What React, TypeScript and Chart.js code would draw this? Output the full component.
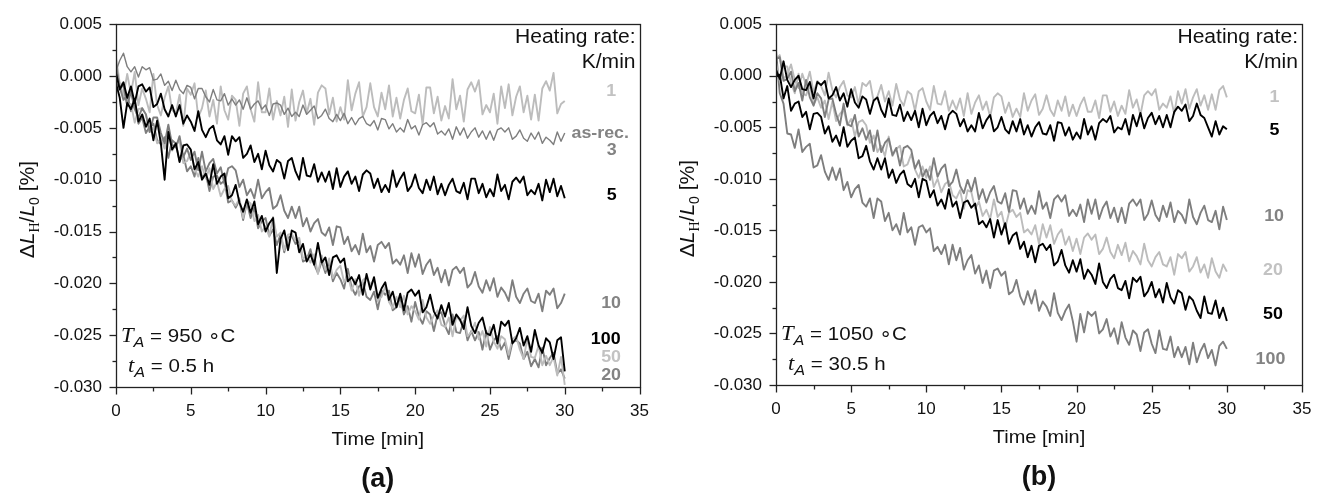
import React, { useEffect, useRef } from 'react';
import { Chart, registerables } from 'chart.js';

Chart.register(...registerables);

// ---------- data (values in units of 1e-4 %) ----------
const TIME = [0,0.25,0.5,0.75,1,1.25,1.5,1.75,2,2.25,2.5,2.75,3,3.25,3.5,3.75,4,4.25,4.5,4.75,5,5.25,5.5,5.75,6,6.25,6.5,6.75,7,7.25,7.5,7.75,8,8.25,8.5,8.75,9,9.25,9.5,9.75,10,10.25,10.5,10.75,11,11.25,11.5,11.75,12,12.25,12.5,12.75,13,13.25,13.5,13.75,14,14.25,14.5,14.75,15,15.25,15.5,15.75,16,16.25,16.5,16.75,17,17.25,17.5,17.75,18,18.25,18.5,18.75,19,19.25,19.5,19.75,20,20.25,20.5,20.75,21,21.25,21.5,21.75,22,22.25,22.5,22.75,23,23.25,23.5,23.75,24,24.25,24.5,24.75,25,25.25,25.5,25.75,26,26.25,26.5,26.75,27,27.25,27.5,27.75,28,28.25,28.5,28.75,29,29.25,29.5,29.75,30];

const X_TICKS = [0, 5, 10, 15, 20, 25, 30, 35];
const X_TICK_LABELS = ['0', '5', '10', '15', '20', '25', '30', '35'];
const Y_TICKS = [50, 0, -50, -100, -150, -200, -250, -300];
const Y_TICK_LABELS = ['0.005', '0.000', '-0.005', '-0.010', '-0.015', '-0.020', '-0.025', '-0.030'];

// (a) T_A = 950 C, t_A = 0.5 h
const A_RATE1 = [18,-7,-19,2, -17,4,-28,-12, -22,-35,2,-28, -38,-21,-10,-33, -36,-18,-48,-12, -18,-7,-40,-31, -14,-39,-23,-46, -10,-33,-42,-19, -23,-48,-17,-10, -32,-44,-6,-35, -35,-12,-42,-24, -38,-20,-49,-13, -43,-25,-14,-36, -22,-47,-16,-9, -12,-37,-21,-44, -30,-42,-4,-33, -17,-6,-39,-30, -7,-30,-39,-16, -32,-9,-39,-21, -41,-23,-12,-34, -36,-18,-47,-11, -11,-36,-20,-43, -29,-41,-3,-32, -19,-44,-13,-6, -15,-4,-37,-28, -35,-17,-46,-10, -31,-8,-38,-20, -10,-35,-19,-42, -18,-43,-12,-5, -14,3,-36,-27, -24];
const A_RATE3 = [5,15,22,9, 4,9,-1,9, 6,8,-4,-3, 2,-9,-5,-14, -4,-13,-17,-9, -11,-22,-12,-12, -20,-25,-13,-23, -24,-17,-28,-22, -28,-23,-32,-21, -32,-27,-24,-32, -28,-38,-27,-26, -28,-37,-31,-39, -35,-39,-28,-37, -33,-29,-41,-38, -32,-41,-44,-37, -43,-36,-46,-40, -47,-41,-39,-46, -48,-43,-52,-41, -42,-51,-46,-54, -50,-54,-42,-51, -48,-57,-47,-45, -49,-45,-56,-53, -57,-51,-61,-49, -57,-50,-60,-54, -50,-59,-53,-61, -53,-62,-52,-50, -54,-50,-61,-58, -52,-60,-63,-55, -61,-54,-65,-59, -62,-66,-54,-63, -55];
const A_RATE5 = [3,-13,-6,-21, -10,-26,-10,-8, -15,-11,-30,-27, -17,-32,-39,-28, -39,-28,-46,-38, -44,-53,-34,-52, -59,-51,-48,-62, -66,-58,-76,-58, -63,-59,-79,-75, -67,-83,-75,-90, -72,-86,-92,-81, -84,-99,-82,-79, -92,-100,-79,-96, -97,-85,-102,-93, -102,-92,-109,-89, -107,-97,-92,-104, -97,-111,-95,-91, -94,-108,-99,-112, -105,-112,-91,-107, -99,-93,-111,-106, -95,-108,-113,-100, -110,-97,-114,-104, -115,-105,-99,-111, -113,-103,-119,-99, -99,-113,-104,-117, -109,-116,-95,-111, -105,-119,-102,-98, -103,-97,-115,-110, -114,-104,-120,-100, -112,-99,-116,-106, -118];
const A_RATE10 = [8,-12,-9,-29, -15,-32,-40,-31, -37,-54,-40,-40, -55,-65,-47,-66, -69,-58,-78,-70, -81,-73,-91,-73, -92,-84,-80,-94, -88,-104,-89,-87, -91,-107,-100,-115, -109,-118,-100,-118, -112,-108,-128,-125, -115,-130,-137,-126, -137,-126,-145,-137, -150,-142,-138,-151, -154,-146,-163,-145, -146,-162,-155,-169, -163,-172,-152,-170, -164,-179,-163,-160, -166,-161,-181,-177, -182,-173,-190,-171, -184,-172,-191,-182, -177,-192,-185,-199, -187,-202,-187,-184, -190,-185,-204,-200, -189,-203,-209,-197, -207,-195,-213,-204, -209,-217,-197,-213, -219,-210,-205,-217, -219,-210,-227,-207, -211,-205,-224,-219, -210];
const A_RATE20 = [10,-11,-23,-18, -34,-25,-46,-40, -55,-49,-46,-62, -66,-59,-79,-62, -65,-82,-76,-92, -87,-97,-79,-98, -94,-111,-97,-96, -104,-101,-122,-120, -127,-120,-139,-122, -137,-127,-147,-140, -137,-154,-148,-163, -153,-170,-156,-154, -162,-159,-179,-177, -167,-182,-190,-179, -190,-179,-198,-190, -196,-205,-186,-204, -211,-203,-199,-213, -216,-208,-225,-207, -211,-207,-226,-223, -214,-230,-222,-237, -218,-232,-239,-227, -230,-246,-230,-228, -241,-249,-230,-247, -248,-236,-255,-246, -255,-247,-264,-246, -264,-255,-251,-264, -257,-273,-257,-255, -258,-273,-266,-280, -273,-281,-262,-279, -272,-267,-287,-283, -292];
const A_RATE50 = [-9,-7,-8,-28, -27,-45,-32,-31, -37,-54,-49,-65, -60,-70,-53,-72, -66,-63,-84,-82, -73,-89,-97,-87, -99,-89,-109,-102, -116,-109,-106,-121, -125,-118,-137,-120, -123,-140,-134,-150, -145,-155,-136,-155, -151,-168,-153,-152, -159,-156,-176,-174, -180,-172,-191,-173, -187,-176,-195,-187, -183,-199,-192,-207, -196,-212,-197,-194, -201,-197,-217,-213, -203,-218,-224,-213, -223,-212,-230,-222, -227,-235,-216,-233, -239,-231,-226,-240, -242,-233,-251,-232, -236,-231,-251,-247, -238,-254,-246,-261, -242,-256,-263,-251, -254,-269,-254,-251, -264,-273,-253,-271, -272,-260,-279,-270, -279,-271,-289,-271, -298];
const A_RATE100 = [-7,-21,-50,-26, -32,-22,-44,-37, -49,-41,-62,-43, -65,-100,-54,-71, -65,-83,-67,-66, -71,-90,-83,-100, -94,-105,-85,-104, -97,-94,-118,-115, -105,-122,-131,-119, -132,-121,-143,-135, -150,-142,-137,-190, -157,-149,-168,-149, -151,-170,-162,-179, -172,-182,-161,-180, -175,-192,-175,-173, -180,-176,-198,-194, -201,-192,-211,-191, -206,-194,-214,-205, -199,-216,-208,-223, -210,-226,-209,-206, -212,-207,-228,-223, -211,-227,-234,-221, -232,-219,-240,-230, -235,-244,-223,-241, -248,-238,-233,-248, -250,-240,-258,-237, -241,-236,-258,-253, -243,-260,-251,-266, -245,-260,-267,-253, -257,-273,-255,-252, -285];

// (b) T_A = 1050 C, t_A = 30.5 h
const B_RATE1 = [16,20,-3,1, 11,-4,-12,2, -9,4,-16,-5, -10,-19,3,-14, -21,-11,-5,-19, -21,-11,-28,-7, -10,-5,-25,-20, -9,-25,-15,-29, -8,-23,-29,-15, -18,-34,-15,-12, -25,-33,-10,-27, -28,-15,-34,-24, -33,-22,-39,-17, -37,-26,-19,-33, -25,-40,-21,-17, -20,-36,-26,-40, -32,-40,-17,-34, -24,-18,-38,-32, -19,-33,-39,-24, -34,-20,-39,-28, -39,-28,-21,-35, -35,-24,-41,-19, -19,-35,-25,-39, -29,-37,-14,-31, -23,-38,-19,-15, -19,-13,-33,-27, -31,-20,-37,-15, -27,-13,-32,-21, -13,-29,-19,-33, -18,-33,-14,-10, -21];
const B_RATE5 = [6,-3,14,-4, -11,-4,0,-13, -14,-6,-22,-6, -9,-5,-22,-19, -11,-24,-17,-30, -13,-26,-31,-20, -23,-37,-24,-21, -33,-40,-22,-38, -39,-28,-44,-35, -43,-34,-50,-32, -48,-39,-35,-46, -39,-52,-38,-34, -37,-49,-42,-54, -48,-54,-36,-51, -43,-38,-54,-50, -40,-52,-56,-44, -54,-42,-57,-48, -59,-50,-45,-56, -57,-48,-63,-45, -46,-58,-50,-62, -55,-61,-42,-57, -49,-62,-46,-42, -45,-39,-55,-50, -52,-42,-57,-38, -49,-36,-51,-41, -36,-47,-39,-50, -38,-50,-35,-30, -34,-28,-44,-39, -27,-38,-41,-50, -59,-44,-57,-49, -52];
const B_RATE10 = [16,18,-5,-3, 4,-15,-7,-24, -4,-21,-29,-17, -22,-40,-23,-22, -37,-48,-27,-47, -49,-38,-59,-51, -62,-53,-73,-53, -74,-65,-61,-77, -70,-87,-70,-68, -72,-90,-82,-98, -91,-101,-80,-98, -90,-86,-107,-103, -91,-107,-114,-101, -112,-99,-120,-110, -123,-113,-107,-122, -124,-114,-132,-111, -112,-129,-119,-134, -126,-134,-112,-129, -123,-138,-120,-116, -122,-116,-136,-130, -136,-125,-142,-120, -134,-120,-139,-128, -122,-138,-128,-142, -128,-143,-124,-120, -126,-120,-140,-134, -121,-135,-141,-126, -137,-123,-142,-131, -135,-143,-120,-137, -144,-133,-126,-140, -142,-131,-149,-127, -140];
const B_RATE20 = [13,-5,9,9, -7,-17,2,-17, -19,-9,-28,-21, -31,-24,-42,-25, -44,-37,-33,-48, -42,-59,-45,-43, -48,-65,-58,-74, -68,-78,-59,-78, -71,-68,-88,-86, -76,-91,-99,-88, -99,-88,-108,-100, -113,-105,-102,-116, -119,-111,-129,-111, -113,-129,-122,-136, -130,-139,-120,-137, -132,-148,-133,-130, -137,-133,-152,-149, -154,-145,-163,-144, -157,-145,-163,-154, -149,-164,-156,-170, -158,-173,-157,-153, -159,-154,-173,-168, -157,-171,-177,-164, -174,-162,-180,-170, -175,-183,-163,-179, -185,-176,-171,-183, -185,-176,-193,-173, -177,-171,-190,-185, -176,-191,-183,-196, -177,-190,-196,-183, -190];
const B_RATE50 = [-1,1,-22,-10, -34,-27,-25,-40, -35,-52,-37,-36, -40,-56,-49,-64, -58,-68,-50,-69, -63,-60,-80,-78, -68,-83,-91,-80, -91,-80,-99,-91, -104,-96,-92,-105, -108,-100,-118,-100, -102,-118,-111,-126, -120,-129,-110,-127, -122,-138,-123,-121, -128,-124,-144,-141, -147,-139,-157,-140, -154,-143,-163,-155, -152,-168,-161,-176, -165,-181,-165,-163, -169,-164,-184,-180, -169,-184,-191,-179, -190,-178,-197,-188, -193,-202,-182,-200, -206,-197,-193,-206, -208,-199,-216,-196, -200,-195,-214,-209, -200,-215,-207,-220, -201,-215,-221,-208, -211,-227,-214,-218, -228,-235,-214,-230, -231,-218,-235,-225, -238];
const B_RATE100 = [24,-17,-27,-56, -57,-70,-52,-74, -69,-66,-89,-87, -77,-93,-101,-89, -101,-90,-111,-103, -118,-110,-106,-123, -127,-119,-138,-119, -122,-141,-133,-150, -144,-154,-133,-152, -147,-164,-147,-145, -152,-148,-170,-166, -173,-164,-183,-164, -179,-167,-188,-179, -174,-192,-184,-201, -189,-206,-189,-187, -194,-190,-212,-209, -198,-214,-222,-209, -221,-208,-228,-219, -224,-233,-211,-230, -237,-228,-222,-238, -258,-231,-249,-229, -233,-229,-250,-246, -236,-253,-245,-260, -239,-254,-261,-247, -251,-267,-249,-246, -260,-269,-247,-265, -266,-253,-273,-263, -273,-263,-280,-259, -278,-267,-260,-274, -266,-281,-262,-258, -265];

// ---------- styling ----------
const LIGHT = '#bcbcbc';
const MID = '#7e7e7e';
const DARK = '#000000';
const LIGHT_TXT = '#c2c2c2';
const MID_TXT = '#838383';
const SANS = '"Liberation Sans", Arial, Helvetica, sans-serif';
const SANS_SYM = '"Liberation Sans", "DejaVu Sans", Arial, sans-serif';
const SERIF = '"Liberation Serif", "Times New Roman", serif';
const SX = 1.08;
const LW = 1.9;

type Series = { values: number[]; color: string; width: number };
type Label = { text: string; t: number; v: number; color: string };
type Cfg = {
  left: number; w: number; yAxisW: number; padTop: number; padRight: number; xAxisH: number;
  series: Series[]; labels: Label[]; temp: string; time: string; letter: string;
};

const PANEL_A: Cfg = {
  left: 0, w: 663, yAxisW: 116, padTop: 19, padRight: 21, xAxisH: 112,
  series: [
    { values: A_RATE100, color: DARK, width: LW },
    { values: A_RATE5, color: DARK, width: LW },
    { values: A_RATE3, color: MID, width: 1.4 },
    { values: A_RATE10, color: MID, width: LW },
    { values: A_RATE50, color: LIGHT, width: LW },
    { values: A_RATE20, color: MID, width: LW },
    { values: A_RATE1, color: LIGHT, width: LW },
  ],
  labels: [
    { text: '1', t: 33.1, v: -14.7, color: LIGHT_TXT },
    { text: 'as-rec.', t: 32.37, v: -55.6, color: MID_TXT },
    { text: '3', t: 33.14, v: -71.7, color: MID_TXT },
    { text: '5', t: 33.14, v: -115.5, color: DARK },
    { text: '10', t: 33.1, v: -219.2, color: MID_TXT },
    { text: '100', t: 32.74, v: -254.4, color: DARK },
    { text: '50', t: 33.1, v: -271.5, color: LIGHT_TXT },
    { text: '20', t: 33.1, v: -288.6, color: MID_TXT },
  ],
  temp: ' = 950 \u2218C', time: ' = 0.5 h', letter: '(a)',
};

const PANEL_B: Cfg = {
  left: 663, w: 664, yAxisW: 113, padTop: 17, padRight: 25, xAxisH: 114,
  series: [
    { values: B_RATE5, color: DARK, width: LW },
    { values: B_RATE50, color: DARK, width: LW },
    { values: B_RATE10, color: MID, width: LW },
    { values: B_RATE20, color: LIGHT, width: LW },
    { values: B_RATE100, color: MID, width: LW },
    { values: B_RATE1, color: LIGHT, width: LW },
  ],
  labels: [
    { text: '1', t: 33.17, v: -21.3, color: LIGHT_TXT },
    { text: '5', t: 33.17, v: -52.7, color: DARK },
    { text: '10', t: 33.14, v: -136.4, color: MID_TXT },
    { text: '20', t: 33.07, v: -188.7, color: LIGHT_TXT },
    { text: '50', t: 33.07, v: -231.5, color: DARK },
    { text: '100', t: 32.9, v: -275.3, color: MID_TXT },
  ],
  temp: ' = 1050 \u2218C', time: ' = 30.5 h', letter: '(b)',
};

type Part = { t: string; font: string; dy?: number };

function textAt(ctx: CanvasRenderingContext2D, s: string, x: number, y: number, font: string, color: string, align: CanvasTextAlign, sx = SX) {
  ctx.save();
  ctx.translate(x, y);
  ctx.scale(sx, 1);
  ctx.font = font;
  ctx.fillStyle = color;
  ctx.textAlign = align;
  ctx.textBaseline = 'middle';
  ctx.fillText(s, 0, 0);
  ctx.restore();
}

function richAt(ctx: CanvasRenderingContext2D, parts: Part[], x: number, base: number, sx: number, color: string) {
  let cx = x;
  for (const p of parts) {
    ctx.save();
    ctx.font = p.font;
    const w = ctx.measureText(p.t).width * sx;
    ctx.translate(cx, base + (p.dy || 0));
    ctx.scale(sx, 1);
    ctx.fillStyle = color;
    ctx.textAlign = 'left';
    ctx.textBaseline = 'alphabetic';
    ctx.fillText(p.t, 0, 0);
    ctx.restore();
    cx += w;
  }
  return cx - x;
}

function makeDecor(cfg: Cfg) {
  return {
    id: 'decor',
    afterDatasetsDraw(chart: any) {
      const { ctx, chartArea: a } = chart;
      const xs = chart.scales.x;
      const ys = chart.scales.y;
      ctx.save();
      ctx.strokeStyle = '#222';
      ctx.lineWidth = 1.3;
      ctx.strokeRect(Math.round(a.left) + 0.5, Math.round(a.top) + 0.5, Math.round(a.right - a.left), Math.round(a.bottom - a.top));
      const seg = (x1: number, y1: number, x2: number, y2: number) => {
        ctx.beginPath(); ctx.moveTo(x1, y1); ctx.lineTo(x2, y2); ctx.stroke();
      };
      const bottom = Math.round(a.bottom) + 0.5;
      const left = Math.round(a.left) + 0.5;
      for (let i = 0; i < X_TICKS.length; i++) {
        const px = Math.round(xs.getPixelForValue(X_TICKS[i])) + 0.5;
        seg(px, bottom, px, bottom + 7);
        if (i < X_TICKS.length - 1) {
          const m = Math.round(xs.getPixelForValue((X_TICKS[i] + X_TICKS[i + 1]) / 2)) + 0.5;
          seg(m, bottom, m, bottom + 4);
        }
      }
      for (let i = 0; i < Y_TICKS.length; i++) {
        const py = Math.round(ys.getPixelForValue(Y_TICKS[i])) + 0.5;
        seg(left, py, left - 7, py);
        if (i < Y_TICKS.length - 1) {
          const m = Math.round(ys.getPixelForValue((Y_TICKS[i] + Y_TICKS[i + 1]) / 2)) + 0.5;
          seg(left, m, left - 4, m);
        }
      }
      textAt(ctx, 'Heating rate:', a.right - 4, a.top + 13, `19.5px ${SANS}`, '#111', 'right');
      textAt(ctx, 'K/min', a.right - 4, a.top + 38, `19.5px ${SANS}`, '#111', 'right');
      for (const l of cfg.labels) {
        textAt(ctx, l.text, xs.getPixelForValue(l.t), ys.getPixelForValue(l.v), `bold 16.5px ${SANS}`, l.color, 'center');
      }
      richAt(ctx, [
        { t: 'T', font: `italic 21px ${SERIF}` },
        { t: 'A', font: `italic 15px ${SANS}`, dy: 5 },
        { t: cfg.temp, font: `19px ${SANS_SYM}` },
      ], a.left + 5, a.bottom - 45, SX, '#111');
      richAt(ctx, [
        { t: 't', font: `italic 21px ${SERIF}` },
        { t: 'A', font: `italic 15px ${SANS}`, dy: 5 },
        { t: cfg.time, font: `19px ${SANS_SYM}` },
      ], a.left + 12, a.bottom - 15.5, SX, '#111');
      const cx = (a.left + a.right) / 2;
      textAt(ctx, 'Time [min]', cx, a.bottom + 53, `18.5px ${SANS}`, '#111', 'center');
      textAt(ctx, cfg.letter, cx, a.bottom + 93, `bold 27px ${SANS}`, '#111', 'center', 1);
      const parts: Part[] = [
        { t: '\u0394', font: `21px ${SANS_SYM}` },
        { t: 'L', font: `italic 21px ${SANS}` },
        { t: 'H', font: `14px ${SERIF}`, dy: 5 },
        { t: '/', font: `21px ${SANS}` },
        { t: 'L', font: `italic 21px ${SANS}` },
        { t: '0', font: `14px ${SANS}`, dy: 5 },
        { t: ' [%]', font: `21px ${SANS}` },
      ];
      let total = 0;
      for (const p of parts) { ctx.font = p.font; total += ctx.measureText(p.t).width; }
      ctx.save();
      ctx.translate(a.left - 82, (a.top + a.bottom) / 2 + 4);
      ctx.rotate(-Math.PI / 2);
      richAt(ctx, parts, -total / 2, 0, 1, '#111');
      ctx.restore();
      ctx.restore();
    },
  };
}

function Panel({ cfg }: { cfg: Cfg }) {
  const ref = useRef<HTMLCanvasElement | null>(null);
  useEffect(() => {
    if (!ref.current) return;
    const chart = new Chart(ref.current, {
      type: 'line',
      data: {
        datasets: cfg.series.map((s) => ({
          data: TIME.map((t, i) => ({ x: t, y: s.values[i] })),
          borderColor: s.color,
          borderWidth: s.width,
          borderJoinStyle: 'round' as const,
          pointRadius: 0,
          tension: 0,
          fill: false,
        })),
      },
      options: {
        responsive: false,
        animation: false,
        devicePixelRatio: 1,
        layout: { padding: { left: 0, right: cfg.padRight, top: cfg.padTop, bottom: 0 } },
        plugins: { legend: { display: false }, tooltip: { enabled: false } },
        scales: {
          x: {
            type: 'linear',
            min: 0,
            max: 35,
            afterFit: (s: any) => { s.height = cfg.xAxisH; },
            afterBuildTicks: (s: any) => { s.ticks = X_TICKS.map((v) => ({ value: v })); },
            grid: { display: false, drawTicks: false },
            border: { display: false },
            ticks: {
              padding: 14,
              color: '#111',
              font: { family: SANS, size: 17 },
              maxRotation: 0,
              autoSkip: false,
              callback: (v: any) => { const i = X_TICKS.indexOf(Number(v)); return i >= 0 ? X_TICK_LABELS[i] : ''; },
            },
          },
          y: {
            type: 'linear',
            min: -300,
            max: 50,
            afterFit: (s: any) => { s.width = cfg.yAxisW; },
            afterBuildTicks: (s: any) => { s.ticks = Y_TICKS.map((v) => ({ value: v })); },
            grid: { display: false, drawTicks: false },
            border: { display: false },
            ticks: {
              padding: 14,
              color: '#111',
              font: { family: SANS, size: 17 },
              autoSkip: false,
              callback: (v: any) => { const i = Y_TICKS.indexOf(Number(v)); return i >= 0 ? Y_TICK_LABELS[i] : ''; },
            },
          },
        },
      } as any,
      plugins: [makeDecor(cfg)],
    });
    return () => chart.destroy();
  }, [cfg]);
  return (
    <canvas
      ref={ref}
      width={cfg.w}
      height={499}
      style={{ position: 'absolute', left: cfg.left, top: 0, width: cfg.w, height: 499 }}
    />
  );
}

export default function App() {
  return (
    <div style={{ position: 'absolute', left: 0, top: 0, width: 1327, height: 499, background: '#fff' }}>
      <Panel cfg={PANEL_A} />
      <Panel cfg={PANEL_B} />
    </div>
  );
}
